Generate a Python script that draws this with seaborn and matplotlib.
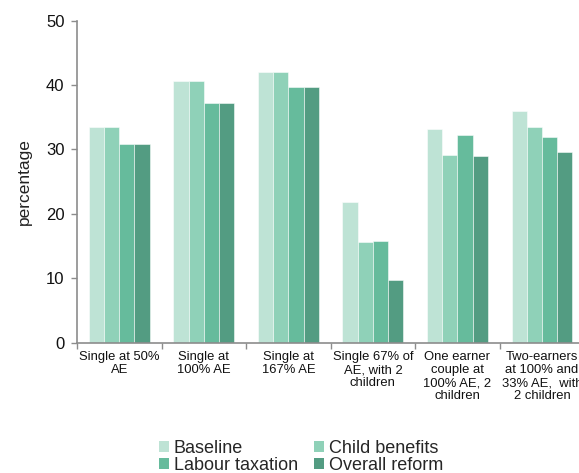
import numpy as np
import pandas as pd
import matplotlib
matplotlib.use("Agg")
import matplotlib.pyplot as plt
from matplotlib.patches import Patch
import seaborn as sns

households = [
    "Single at 50%\nAE",
    "Single at\n100% AE",
    "Single at\n167% AE",
    "Single 67% of\nAE, with 2\nchildren",
    "One earner\ncouple at\n100% AE, 2\nchildren",
    "Two-earners\nat 100% and\n33% AE,  with\n2 children",
]
scenarios = ["Baseline", "Child benefits", "Labour taxation", "Overall reform"]
baseline = [33.5, 40.6, 42.1, 21.8, 33.2, 35.9]
child_benefits = [33.5, 40.6, 42.1, 15.7, 29.1, 33.5]
labour_taxation = [30.8, 37.2, 39.7, 15.8, 32.2, 32.0]
overall_reform = [30.8, 37.2, 39.7, 9.8, 29.0, 29.6]
colors = ["#bee3d5", "#8fd1b8", "#66bb9c", "#539c82"]

series = [baseline, child_benefits, labour_taxation, overall_reform]
df = pd.DataFrame(
    [(h, s, v) for s, vals in zip(scenarios, series) for h, v in zip(households, vals)],
    columns=["household", "scenario", "value"],
)

sns.set_theme(style="white")
plt.rcParams["font.family"] = ["Liberation Sans", "DejaVu Sans"]

fig = plt.figure(figsize=(5.79, 4.73), dpi=100)
ax = fig.add_axes([0.133, 0.2755, 1.009 - 0.133, 0.9564 - 0.2755])

sns.barplot(
    data=df, x="household", y="value", hue="scenario", hue_order=scenarios,
    order=households, palette=colors, saturation=1, width=0.72,
    edgecolor=(1, 1, 1, 0.6), linewidth=0.6, ax=ax, legend=False,
)

ax.set_xlim(-0.5, len(households) - 0.5)
ax.set_ylim(0, 50)
ax.set_yticks(np.arange(0, 51, 10))
ax.set_xlabel("")
ax.set_ylabel("percentage", fontsize=12.5, color="#222222", labelpad=10)

spine_color = "#8c8c8c"
for side in ["top", "right"]:
    ax.spines[side].set_visible(False)
for side in ["left", "bottom"]:
    ax.spines[side].set_color(spine_color)
    ax.spines[side].set_linewidth(1.2)

ax.set_xticks(range(len(households)))
ax.set_xticklabels(households, fontsize=9.4, color="#111111", linespacing=1.12)
ax.set_xticks(np.arange(-0.5, len(households), 1.0), minor=True)
ax.tick_params(axis="x", which="major", length=0, pad=6)
ax.tick_params(axis="x", which="minor", length=4, width=1, color=spine_color, bottom=True)
ax.tick_params(axis="y", length=4, width=1, color=spine_color, labelsize=12,
               labelcolor="#111111", left=True, pad=5)

# legend filled row by row: Baseline, Child benefits / Labour taxation, Overall reform
order = [0, 2, 1, 3]
handles = [Patch(facecolor=colors[i], edgecolor="none") for i in order]
labels = [scenarios[i] for i in order]
fig.legend(
    handles, labels, loc="center", bbox_to_anchor=(301 / 579, 1 - 457 / 473),
    ncol=2, frameon=False, fontsize=13, handlelength=0.55, handleheight=0.55,
    handletextpad=0.25, labelspacing=0.0, columnspacing=0.9, borderpad=0,
)

fig.savefig("out.png", dpi=100)
